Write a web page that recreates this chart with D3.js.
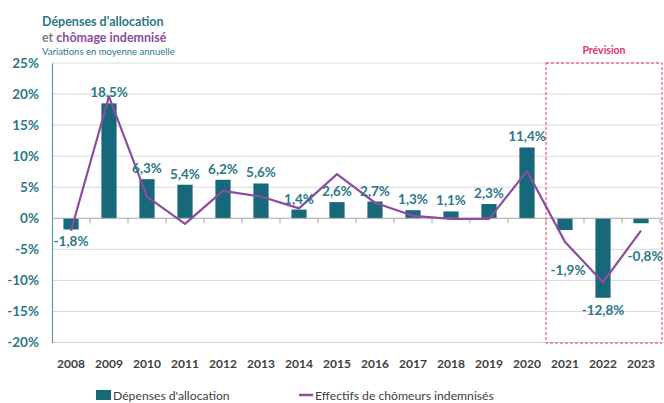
<!DOCTYPE html>
<html><head><meta charset="utf-8">
<script src="https://cdn.jsdelivr.net/npm/d3@7"></script>
<style>body{margin:0;background:#fff}svg{display:block}text{font-family:Lato,"Open Sans",sans-serif}</style>
</head><body><svg id="c" width="664" height="403"></svg>
<script>
const years = ["2008","2009","2010","2011","2012","2013","2014","2015","2016","2017","2018","2019","2020","2021","2022","2023"];
const depenses = [-1.8,18.5,6.3,5.4,6.2,5.6,1.4,2.6,2.7,1.3,1.1,2.3,11.4,-1.9,-12.8,-0.8];
const effectifs = [-2.0,19.6,3.5,-0.9,4.4,3.5,1.6,7.1,2.5,0.4,-0.1,-0.1,7.6,-3.8,-10.3,-2.0];
const yTicks = [25,20,15,10,5,0,-5,-10,-15,-20];
const forecastYears = ["2021","2022","2023"];
// layout tweaks for label placement (pixels)
const labelShift = {"2021":[3,28],"2023":[4,21]};

const svg = d3.select("#c");
const teal = "#17687a", tealTxt = "#2b7886", purple = "#8d4c9d", pink = "#e2336b";
const x = d3.scaleBand().domain(years).range([52,660]).paddingInner(0.6).paddingOuter(0.3);
const xb = d3.scaleBand().domain(years).range([52,660]);
const y = d3.scaleLinear().domain([-20,25]).range([342.5,63]);
const fmt = v => d3.format(".1f")(v).replace(".",",").replace("\u2212","-") + "%";

// gridlines
svg.append("g").selectAll("line").data(yTicks.filter(t=>t!==0 && t!==-20)).join("line")
  .attr("x1",52).attr("x2",660).attr("y1",d=>y(d)).attr("y2",d=>y(d))
  .attr("stroke","#d9d9d9").attr("stroke-width",1);
svg.append("line").attr("x1",52).attr("x2",660).attr("y1",y(-20)).attr("y2",y(-20)).attr("stroke","#d0d6d8");
// y axis
const ya = d3.axisLeft(y).tickValues(yTicks).tickFormat(d=>d+"%").tickSize(0).tickPadding(13);
const gy = svg.append("g").attr("transform","translate(52,0)").call(ya);
gy.select(".domain").attr("stroke","#5a9ba6").attr("stroke-width",1.2);
gy.selectAll("text").attr("fill",tealTxt).attr("font-weight","bold").attr("font-size",13.5);

// forecast box
const bx0 = xb(forecastYears[0]), bx1 = 662;
svg.append("rect").attr("x",bx0).attr("y",63).attr("width",bx1-bx0).attr("height",y(-20)-63+0.5)
  .attr("fill","none").attr("stroke",pink).attr("stroke-width",1).attr("stroke-dasharray","3,2");
svg.append("text").attr("x",(bx0+bx1)/2).attr("y",54).attr("text-anchor","middle")
  .attr("font-size",10.5).attr("font-weight","bold").attr("fill",pink).text("Prévision");

// bars
svg.append("g").selectAll("rect").data(years).join("rect")
  .attr("x",d=>x(d)).attr("width",x.bandwidth())
  .attr("y",(d,i)=>y(Math.max(0,depenses[i]))).attr("height",(d,i)=>Math.abs(y(depenses[i])-y(0)))
  .attr("fill",teal);

// zero line with ticks
const xa = d3.axisBottom(xb).tickSize(5).tickFormat("");
const gz = svg.append("g").attr("transform",`translate(0,${y(0)})`).call(xa);
gz.select(".domain").attr("stroke","#a6a6a6").attr("d",`M52,0H660`);
gz.selectAll(".tick line").attr("stroke","#a6a6a6").attr("transform",`translate(${xb.bandwidth()/2},0)`);

// line
const line = d3.line().x((d,i)=>xb(years[i])+xb.bandwidth()/2).y(d=>y(d));
svg.append("path").datum(effectifs).attr("d",line).attr("fill","none")
  .attr("stroke",purple).attr("stroke-width",2.2).attr("stroke-linejoin","round");

// value labels
svg.append("g").selectAll("text").data(years).join("text")
  .attr("x",(d,i)=>xb(d)+xb.bandwidth()/2+(labelShift[d]?labelShift[d][0]:0))
  .attr("y",(d,i)=>{const v=depenses[i];const s=labelShift[d]?labelShift[d][1]:0;
     return (v>=0? y(v)-6 : y(v)+17)+s;})
  .attr("text-anchor","middle").attr("font-size",13.5).attr("font-weight","bold").attr("fill",tealTxt)
  .text((d,i)=>fmt(depenses[i]));

// x labels
svg.append("g").selectAll("text").data(years).join("text")
  .attr("x",d=>xb(d)+xb.bandwidth()/2).attr("y",368).attr("text-anchor","middle")
  .attr("font-size",12).attr("font-weight","bold").attr("fill","#404040").text(d=>d);

// title
svg.append("text").attr("x",42).attr("y",26).attr("font-size",12.5).attr("font-weight","bold")
  .attr("fill",tealTxt).text("Dépenses d'allocation");
const t2 = svg.append("text").attr("x",42).attr("y",42).attr("font-size",12.5).attr("font-weight","bold");
t2.append("tspan").attr("fill","#7f7f7f").text("et ");
t2.append("tspan").attr("fill",purple).text("chômage indemnisé");
svg.append("text").attr("x",42).attr("y",55).attr("font-size",9.5).attr("fill",tealTxt)
  .text("Variations en moyenne annuelle");

// legend
svg.append("rect").attr("x",96).attr("y",390).attr("width",15).attr("height",10).attr("fill",teal);
svg.append("text").attr("x",113).attr("y",400).attr("font-size",12.2).attr("fill","#404040").text("Dépenses d'allocation");
svg.append("line").attr("x1",299).attr("x2",313).attr("y1",395).attr("y2",395).attr("stroke",purple).attr("stroke-width",2.5);
svg.append("text").attr("x",315).attr("y",400).attr("font-size",12.2).attr("fill","#404040").text("Effectifs de chômeurs indemnisés");
</script></body></html>
